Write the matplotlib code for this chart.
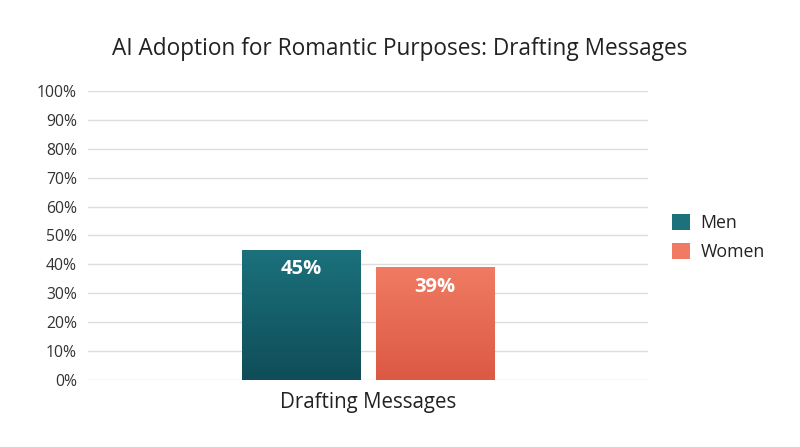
import matplotlib
matplotlib.use("Agg")
import matplotlib.pyplot as plt
import numpy as np
from matplotlib.colors import LinearSegmentedColormap
from matplotlib.patches import Patch

plt.rcParams['font.family'] = ['Open Sans', 'DejaVu Sans']

category = "Drafting Messages"
series = ["Men", "Women"]
values = [45, 39]
top_colors = ["#1b717c", "#f07b62"]
bottom_colors = ["#0f4d58", "#dc5944"]
yticks = list(range(0, 101, 10))
ytick_labels = [f"{v}%" for v in yticks]

fig = plt.figure(figsize=(8, 4.47), dpi=100)
ax = fig.add_axes([0.11, 0.15, 0.70, 0.6465])

offsets = [-0.12, 0.12]
width = 0.211
for i, (name, v) in enumerate(zip(series, values)):
    bars = ax.bar(offsets[i], v, width=width, color=top_colors[i], zorder=2)
    rect = bars[0]
    cmap = LinearSegmentedColormap.from_list(f"g{i}", [bottom_colors[i], top_colors[i]])
    grad = np.linspace(0, 1, 256).reshape(-1, 1)
    x0 = offsets[i] - width / 2
    im = ax.imshow(grad, extent=[x0, x0 + width, 0, v], origin='lower',
                   cmap=cmap, aspect='auto', zorder=3)
    im.set_clip_path(rect)
    ax.text(offsets[i], v - 3.3, f"{v}%", ha='center', va='top', color='white',
            fontsize=14.5, fontweight='bold', zorder=4)

ax.set_xlim(-0.5, 0.5)
ax.set_ylim(0, 100)
ax.set_yticks(yticks)
ax.set_yticklabels(ytick_labels)
ax.set_xticks([0])
ax.set_xticklabels([category], fontsize=14.8, color='#222222')
ax.tick_params(axis='y', length=0, pad=8, labelsize=11.3, labelcolor='#333333')
ax.tick_params(axis='x', length=0, pad=9)
ax.grid(axis='y', color='#dddddd', linewidth=1, zorder=0)
ax.set_axisbelow(True)
for s in ax.spines.values():
    s.set_visible(False)

fig.text(0.5, 0.89, "AI Adoption for Romantic Purposes: Drafting Messages",
         ha='center', va='center', fontsize=16.3, color='#222222')

handles = [Patch(facecolor=top_colors[i], label=series[i]) for i in range(2)]
fig.legend(handles=handles, loc='center left', bbox_to_anchor=(0.82, 0.468),
           frameon=False, fontsize=12.8, handlelength=1.0, handleheight=1.0,
           handletextpad=0.6, labelspacing=0.6, labelcolor='#222222')

fig.savefig("out.png", dpi=100)
